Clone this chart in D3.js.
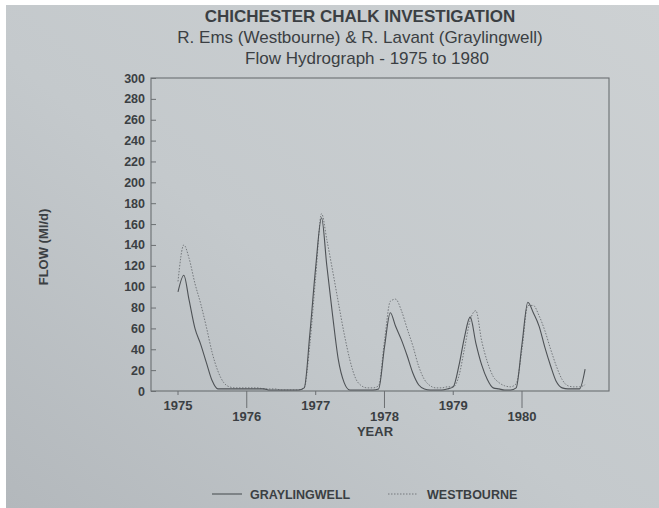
<!DOCTYPE html>
<html>
<head>
<meta charset="utf-8">
<script src="https://cdn.jsdelivr.net/npm/d3@7"></script>
<style>
  html, body { margin: 0; padding: 0; background: #fff; }
  svg { display: block; }
</style>
</head>
<body>
<div id="chart"></div>
<script>
// Data (monthly flow, Ml/d), Jan 1975 .. Dec 1980
const startYear = 1975;
const endYear = 1980;
const yearTicks = [1975, 1976, 1977, 1978, 1979, 1980];
const flowTicks = [0, 20, 40, 60, 80, 100, 120, 140, 160, 180, 200, 220, 240, 260, 280, 300];

const graylingwell = [
  95, 111, 87, 60, 45, 27, 10, 2, 2, 2, 2, 2,      // 1975
  2, 2, 2, 2, 1, 1, 1, 1, 1, 1, 3, 55,             // 1976
  119, 166, 120, 72, 30, 8, 1, 1, 1, 1, 1, 2,      // 1977
  42, 75, 62, 49, 34, 17, 6, 2, 1, 1, 1, 2,        // 1978
  4, 25, 51, 71, 46, 25, 11, 3, 2, 1, 1, 3,        // 1979
  45, 85, 75, 62, 42, 24, 9, 3, 2, 2, 2, 21        // 1980
];
const westbourne = [
  105, 140, 127, 103, 84, 61, 37, 19, 8, 4, 3, 3,  // 1975
  3, 3, 3, 2, 2, 2, 1, 1, 1, 1, 3, 45,             // 1976
  110, 170, 145, 115, 85, 55, 30, 12, 5, 3, 3, 5,  // 1977
  48, 86, 88, 77, 60, 43, 24, 11, 5, 3, 3, 4,      // 1978
  4, 15, 40, 68, 77, 48, 28, 14, 8, 5, 4, 7,       // 1979
  40, 82, 82, 72, 58, 40, 24, 11, 5, 4, 4, 6       // 1980
];

const months = d3.timeMonth.range(new Date(startYear, 0, 1), new Date(endYear + 1, 0, 1));

// Layout
const width = 659;
const height = 508;
const plotLeft = 151, plotRight = 609, plotTop = 78, plotBottom = 391;
const ink = "#3b3f43";
const font = "'Liberation Sans', Arial, sans-serif";

const x = d3.scaleTime()
  .domain([new Date(1975, 0, 1), new Date(1980, 0, 1)])
  .range([178, 522]);
const y = d3.scaleLinear([0, 300], [plotBottom, plotTop]);

const svg = d3.select("#chart").append("svg")
  .attr("width", width)
  .attr("height", height)
  .attr("viewBox", [0, 0, width, height])
  .style("font-family", font);

// photographed paper
const grad = svg.append("defs").append("linearGradient")
  .attr("id", "paper")
  .attr("x1", "100%").attr("y1", "0%")
  .attr("x2", "0%").attr("y2", "100%");
grad.append("stop").attr("offset", "0%").attr("stop-color", "#cdd1d3");
grad.append("stop").attr("offset", "55%").attr("stop-color", "#c4c9cc");
grad.append("stop").attr("offset", "100%").attr("stop-color", "#b3b8bc");

svg.append("rect")
  .attr("x", 6).attr("y", 5)
  .attr("width", width - 6).attr("height", height - 5)
  .attr("fill", "url(#paper)");

// Titles
const titles = svg.append("g")
  .attr("fill", ink)
  .attr("text-anchor", "middle");
titles.append("text")
  .attr("x", 360).attr("y", 22)
  .attr("font-size", 17).attr("font-weight", "bold")
  .text("CHICHESTER CHALK INVESTIGATION");
titles.append("text")
  .attr("x", 360).attr("y", 43)
  .attr("font-size", 17)
  .text("R. Ems (Westbourne) & R. Lavant (Graylingwell)");
titles.append("text")
  .attr("x", 367).attr("y", 64)
  .attr("font-size", 17)
  .text("Flow Hydrograph - 1975 to 1980");

// Frame
svg.append("rect")
  .attr("x", plotLeft).attr("y", plotTop)
  .attr("width", plotRight - plotLeft).attr("height", plotBottom - plotTop)
  .attr("fill", "none")
  .attr("stroke", "#6b6f72")
  .attr("stroke-width", 1.1);

// Y axis (ticks point inward)
const yAxis = svg.append("g")
  .attr("transform", `translate(${plotLeft},0)`)
  .call(d3.axisRight(y).tickValues(flowTicks).tickSize(5).tickFormat(""));
yAxis.select(".domain").remove();
yAxis.selectAll(".tick line").attr("stroke", "#6b6f72");

svg.append("g")
  .attr("fill", ink)
  .attr("font-size", 12.5)
  .attr("font-weight", "bold")
  .attr("text-anchor", "end")
  .selectAll("text")
  .data(flowTicks)
  .join("text")
  .attr("x", plotLeft - 6)
  .attr("y", d => y(d))
  .attr("dy", "0.36em")
  .text(d => d);

// X axis: alternating short/long ticks
const xg = svg.append("g");
xg.selectAll("line")
  .data(yearTicks)
  .join("line")
  .attr("x1", d => x(new Date(d, 0, 1)))
  .attr("x2", d => x(new Date(d, 0, 1)))
  .attr("y1", plotBottom)
  .attr("y2", (d, i) => plotBottom + (i % 2 ? 17 : 4))
  .attr("stroke", "#6b6f72");
xg.selectAll("text")
  .data(yearTicks)
  .join("text")
  .attr("x", d => x(new Date(d, 0, 1)))
  .attr("y", (d, i) => plotBottom + (i % 2 ? 30 : 19))
  .attr("text-anchor", "middle")
  .attr("font-size", 13)
  .attr("font-weight", "bold")
  .attr("fill", ink)
  .text(d => d);

svg.append("text")
  .attr("x", 375).attr("y", 436)
  .attr("text-anchor", "middle")
  .attr("font-size", 13).attr("font-weight", "bold")
  .attr("fill", ink)
  .text("YEAR");

svg.append("text")
  .attr("transform", "translate(48,247) rotate(-90)")
  .attr("text-anchor", "middle")
  .attr("font-size", 13).attr("font-weight", "bold")
  .attr("fill", ink)
  .text("FLOW (Ml/d)");

// Series
const line = d3.line()
  .curve(d3.curveMonotoneX)
  .x((d, i) => x(months[i]))
  .y(d => y(d));

svg.append("path")
  .datum(westbourne)
  .attr("fill", "none")
  .attr("stroke", "#74787c")
  .attr("stroke-width", 1)
  .attr("stroke-dasharray", "1.5,1.5")
  .attr("d", line);

svg.append("path")
  .datum(graylingwell)
  .attr("fill", "none")
  .attr("stroke", "#4e5256")
  .attr("stroke-width", 1.1)
  .attr("d", line);

// Legend
const legend = svg.append("g")
  .attr("font-size", 12.5)
  .attr("font-weight", "bold")
  .attr("fill", ink);
legend.append("line")
  .attr("x1", 212).attr("x2", 242).attr("y1", 494).attr("y2", 494)
  .attr("stroke", "#4e5256").attr("stroke-width", 1.1);
legend.append("text")
  .attr("x", 250).attr("y", 494).attr("dy", "0.36em")
  .text("GRAYLINGWELL");
legend.append("line")
  .attr("x1", 388).attr("x2", 418).attr("y1", 494).attr("y2", 494)
  .attr("stroke", "#74787c").attr("stroke-width", 1)
  .attr("stroke-dasharray", "1.5,1.5");
legend.append("text")
  .attr("x", 427).attr("y", 494).attr("dy", "0.36em")
  .text("WESTBOURNE");
</script>
</body>
</html>
